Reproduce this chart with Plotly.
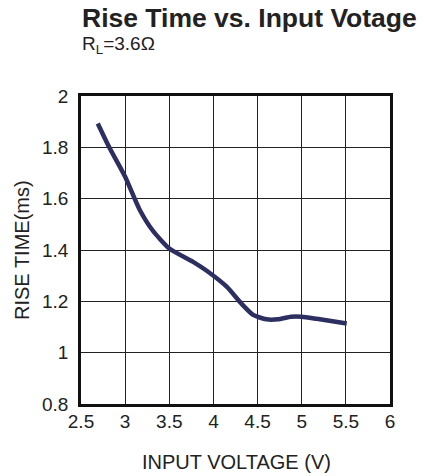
import plotly.graph_objects as go

voltage = [2.69, 2.82, 3.0, 3.16, 3.31, 3.5, 3.77, 3.92, 4.15, 4.32, 4.45, 4.6, 4.73, 4.88, 5.0, 5.17, 5.51]
rise_ms = [1.893, 1.80, 1.685, 1.56, 1.477, 1.406, 1.354, 1.32, 1.257, 1.19, 1.147, 1.13, 1.13, 1.14, 1.14, 1.132, 1.114]

x_ticks = [2.5, 3, 3.5, 4, 4.5, 5, 5.5, 6]
y_ticks = [0.8, 1.0, 1.2, 1.4, 1.6, 1.8, 2.0]
y_tick_text = ["0.8", "1", "1.2", "1.4", "1.6", "1.8", "2"]

FONT = "Liberation Sans, Arial"

fig = go.Figure()
fig.add_trace(go.Scatter(x=voltage, y=rise_ms, mode="lines",
                         line=dict(color="#2c2f60", width=4.5, shape="spline", smoothing=0.6),
                         showlegend=False, hoverinfo="skip"))

axis_common = dict(showgrid=True, gridcolor="#222222", gridwidth=1.3,
                   showline=True, linecolor="#111111", linewidth=2.8, mirror=True,
                   zeroline=False, ticks="", tickfont=dict(family=FONT, size=19, color="#222222"))

fig.update_xaxes(range=[2.5, 6], tickvals=x_ticks, ticktext=[str(v) for v in x_ticks],
                 ticklabelstandoff=-2, **axis_common)
fig.update_yaxes(range=[0.8, 2.0], tickvals=y_ticks, ticktext=y_tick_text,
                 ticklabelstandoff=6, **axis_common)

fig.add_annotation(text="<b>Rise Time vs. Input Votage</b>", xref="paper", yref="paper",
                   x=-0.003, y=1.254, xanchor="left", yanchor="middle", showarrow=False,
                   font=dict(family=FONT, size=26.5, color="#222222"))
fig.add_annotation(text="R<sub>L</sub>=3.6Ω", xref="paper", yref="paper",
                   x=-0.003, y=1.166, xanchor="left", yanchor="middle", showarrow=False,
                   font=dict(family=FONT, size=19, color="#222222"))
fig.add_annotation(text="RISE TIME(ms)", xref="paper", yref="paper", textangle=-90,
                   x=-0.191, y=0.5, xanchor="center", yanchor="middle", showarrow=False,
                   font=dict(family=FONT, size=20, color="#222222"))
fig.add_annotation(text="INPUT VOLTAGE (V)", xref="paper", yref="paper",
                   x=0.502, y=-0.188, xanchor="center", yanchor="middle", showarrow=False,
                   font=dict(family=FONT, size=20, color="#222222"))

fig.update_layout(width=424, height=476, margin=dict(l=81, r=34, t=96, b=72),
                  paper_bgcolor="white", plot_bgcolor="white")

fig.write_html("out.html", config={"displayModeBar": False},
               post_script="document.body.style.margin='0';")
